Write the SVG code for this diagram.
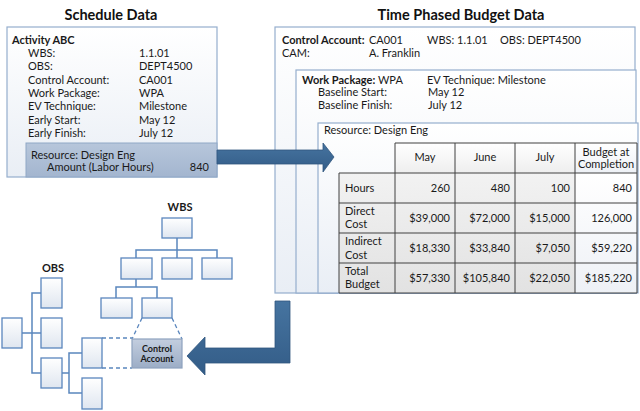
<svg xmlns="http://www.w3.org/2000/svg" width="640" height="411" viewBox="0 0 640 411">
<defs>
<linearGradient id="panel" x1="0" y1="0" x2="0" y2="1"><stop offset="0" stop-color="#ffffff"/><stop offset="1" stop-color="#e9eef5"/></linearGradient>
<linearGradient id="res" x1="0" y1="0" x2="0" y2="1"><stop offset="0" stop-color="#b7c6db"/><stop offset="1" stop-color="#a3b5cf"/></linearGradient>
<linearGradient id="org" x1="0" y1="0" x2="0" y2="1"><stop offset="0" stop-color="#ffffff"/><stop offset="1" stop-color="#dfe6f0"/></linearGradient>
<linearGradient id="ca" x1="0" y1="0" x2="0" y2="1"><stop offset="0" stop-color="#c3cedf"/><stop offset="1" stop-color="#9cadc6"/></linearGradient>
<linearGradient id="arr" x1="0" y1="0" x2="0" y2="1"><stop offset="0" stop-color="#4674a0"/><stop offset="1" stop-color="#335c87"/></linearGradient>
<linearGradient id="hdr" x1="0" y1="0" x2="0" y2="1"><stop offset="0" stop-color="#ffffff"/><stop offset="1" stop-color="#eeeeee"/></linearGradient>
<linearGradient id="cell" x1="0" y1="0" x2="0" y2="1"><stop offset="0" stop-color="#f2f2f2"/><stop offset="1" stop-color="#e2e2e2"/></linearGradient>
<linearGradient id="bac" x1="0" y1="0" x2="0" y2="1"><stop offset="0" stop-color="#ffffff"/><stop offset="1" stop-color="#eef1f6"/></linearGradient>
</defs>
<style>
text{font-family:Lato,"Liberation Sans",sans-serif;font-size:11px;fill:#1a1a1a}
.b{font-weight:bold}
.title{font-size:14.5px;font-weight:bold;text-anchor:middle;fill:#111}
.r{text-anchor:end}
.m{text-anchor:middle}
.panel{fill:url(#panel);stroke:#95aecd;stroke-width:1.2}
.ob{fill:url(#org);stroke:#5a86bd;stroke-width:1.3}
.ln{fill:none;stroke:#5a86bd;stroke-width:1.5}
.dash{fill:none;stroke:#5a86bd;stroke-width:1.3;stroke-dasharray:4 3}
.tc{stroke:#404040;stroke-width:1}
</style>
<text class="title" x="111" y="20">Schedule Data</text>
<text class="title" x="461" y="20">Time Phased Budget Data</text>

<g id="schedule">
<rect class="panel" x="7" y="27" width="210" height="150"/>
<text class="b" x="12" y="44">Activity ABC</text>
<text x="28" y="57">WBS:</text><text x="139" y="57">1.1.01</text>
<text x="28" y="70.3">OBS:</text><text x="139" y="70.3">DEPT4500</text>
<text x="28" y="83.6">Control Account:</text><text x="139" y="83.6">CA001</text>
<text x="28" y="97">Work Package:</text><text x="139" y="97">WPA</text>
<text x="28" y="110.3">EV Technique:</text><text x="139" y="110.3">Milestone</text>
<text x="28" y="123.6">Early Start:</text><text x="139" y="123.6">May 12</text>
<text x="28" y="137">Early Finish:</text><text x="139" y="137">July 12</text>
</g>
<g id="schedule-resource">
<rect x="26" y="143" width="191" height="34" fill="url(#res)" stroke="#8fa7c6" stroke-width="1"/>
<text x="31" y="159">Resource: Design Eng</text>
<text x="47" y="171">Amount (Labor Hours)</text>
<text class="r" x="209" y="171">840</text>
</g>

<g id="control-account-panel">
<rect class="panel" x="275" y="27" width="360" height="266"/>
<text class="b" x="282" y="44">Control Account:</text>
<text x="369" y="44">CA001</text>
<text x="427" y="44">WBS: 1.1.01</text>
<text x="500" y="44">OBS: DEPT4500</text>
<text x="282" y="57">CAM:</text>
<text x="369" y="57">A. Franklin</text>
</g>
<g id="work-package-panel">
<rect class="panel" x="296" y="70" width="340" height="223"/>
<text x="302" y="84"><tspan class="b">Work Package:</tspan> WPA</text>
<text x="427" y="84">EV Technique:  Milestone</text>
<text x="318" y="96">Baseline Start:</text><text x="428" y="96">May 12</text>
<text x="318" y="108.5">Baseline Finish:</text><text x="428" y="108.5">July 12</text>
</g>
<g id="resource-panel">
<rect class="panel" x="318" y="123" width="320" height="170"/>
<text x="324" y="134">Resource: Design Eng</text>
</g>

<g id="budget-table">
<rect x="395" y="143" width="180" height="30" fill="url(#hdr)"/>
<rect x="575" y="143" width="62" height="30" fill="url(#bac)"/>
<rect x="339" y="173" width="56" height="120" fill="url(#cell)"/>
<rect x="395" y="173" width="180" height="120" fill="url(#cell)"/>
<rect x="575" y="173" width="62" height="120" fill="url(#bac)"/>
<g class="tc">
<line x1="395" y1="143" x2="637" y2="143"/>
<line x1="339" y1="173" x2="637" y2="173"/>
<line x1="339" y1="203" x2="637" y2="203"/>
<line x1="339" y1="233" x2="637" y2="233"/>
<line x1="339" y1="263" x2="637" y2="263"/>
<line x1="339" y1="293" x2="637" y2="293"/>
<line x1="339" y1="173" x2="339" y2="293"/>
<line x1="395" y1="143" x2="395" y2="293"/>
<line x1="455" y1="143" x2="455" y2="293"/>
<line x1="515" y1="143" x2="515" y2="293"/>
<line x1="575" y1="143" x2="575" y2="293"/>
<line x1="637" y1="143" x2="637" y2="293"/>
</g>
<text class="m" x="425" y="161">May</text>
<text class="m" x="485" y="161">June</text>
<text class="m" x="545" y="161">July</text>
<text class="m" x="606" y="156">Budget at</text>
<text class="m" x="606" y="168">Completion</text>
<text x="345" y="192">Hours</text>
<text class="r" x="450" y="192">260</text><text class="r" x="510" y="192">480</text><text class="r" x="570" y="192">100</text><text class="r" x="632" y="192">840</text>
<text x="345" y="215">Direct</text><text x="345" y="228">Cost</text>
<text class="r" x="450" y="222">$39,000</text><text class="r" x="510" y="222">$72,000</text><text class="r" x="570" y="222">$15,000</text><text class="r" x="632" y="222">126,000</text>
<text x="345" y="245">Indirect</text><text x="345" y="259">Cost</text>
<text class="r" x="450" y="252">$18,330</text><text class="r" x="510" y="252">$33,840</text><text class="r" x="570" y="252">$7,050</text><text class="r" x="632" y="252">$59,220</text>
<text x="345" y="275">Total</text><text x="345" y="288">Budget</text>
<text class="r" x="450" y="282">$57,330</text><text class="r" x="510" y="282">$105,840</text><text class="r" x="570" y="282">$22,050</text><text class="r" x="632" y="282">$185,220</text>
</g>

<g id="connectors">
<polygon points="217,150 323,150 323,143 334,157 323,172 323,164 217,164" fill="url(#arr)" stroke="#30577f" stroke-width="0.8"/>
<polygon points="275,301 290,301 290,363 205,363 205,375 187,356 205,337 205,348 275,348" fill="url(#arr)" stroke="#30577f" stroke-width="0.8"/>
<polyline class="ln" points="177,238 177,250"/>
<polyline class="ln" points="136,258 136,250 217,250 217,258"/>
<polyline class="ln" points="177,250 177,258"/>
<polyline class="ln" points="136,279 136,287"/>
<polyline class="ln" points="116,298 116,287 157,287 157,298"/>
<line class="ln" x1="22" y1="333" x2="32" y2="333"/>
<polyline class="ln" points="41,293 32,293 32,373 41,373"/>
<line class="ln" x1="32" y1="333" x2="41" y2="333"/>
<line class="ln" x1="62" y1="373" x2="69" y2="373"/>
<polyline class="ln" points="82,353 69,353 69,393 82,393"/>
<line class="dash" x1="142" y1="318" x2="132" y2="339"/>
<line class="dash" x1="172" y1="318" x2="182" y2="339"/>
<line class="dash" x1="102" y1="338" x2="132" y2="338"/>
<line class="dash" x1="102" y1="368" x2="132" y2="368"/>
</g>

<text class="b m" x="180" y="211">WBS</text>
<text class="b m" x="53" y="272">OBS</text>
<g id="wbs-root"><rect class="ob" x="162" y="218" width="30" height="20"/></g>
<g id="wbs-1"><rect class="ob" x="121" y="258" width="31" height="21"/></g>
<g id="wbs-2"><rect class="ob" x="162" y="258" width="30" height="21"/></g>
<g id="wbs-3"><rect class="ob" x="202" y="258" width="30" height="21"/></g>
<g id="wbs-1-1"><rect class="ob" x="101" y="298" width="31" height="20"/></g>
<g id="wbs-1-2"><rect class="ob" x="142" y="298" width="30" height="20"/></g>
<g id="obs-root"><rect class="ob" x="2" y="318" width="20" height="30"/></g>
<g id="obs-1"><rect class="ob" x="41" y="278" width="21" height="30"/></g>
<g id="obs-2"><rect class="ob" x="41" y="318" width="21" height="30"/></g>
<g id="obs-3"><rect class="ob" x="41" y="358" width="21" height="30"/></g>
<g id="obs-3-1"><rect class="ob" x="82" y="338" width="20" height="30"/></g>
<g id="obs-3-2"><rect class="ob" x="82" y="378" width="20" height="31"/></g>
<g id="control-account">
<rect x="132" y="339" width="50" height="29" fill="url(#ca)" stroke="#8ea2bf" stroke-width="1.2"/>
<text class="b m" x="157" y="352" style="font-size:9px">Control</text>
<text class="b m" x="157" y="362" style="font-size:9px">Account</text>
</g>
</svg>
